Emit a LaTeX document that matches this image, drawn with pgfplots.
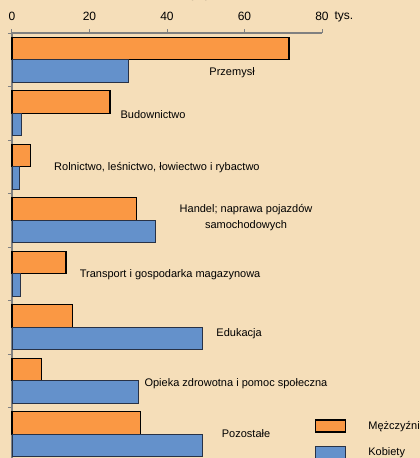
\documentclass[border=0pt]{standalone}
\usepackage{pgfplots}
\pgfplotsset{compat=1.18}
\usepackage{fontspec}
\setmainfont{Liberation Sans}
\definecolor{bg}{RGB}{245,222,185}
\definecolor{orangebar}{RGB}{250,152,68}
\definecolor{bluebar}{RGB}{100,145,203}
\definecolor{axgray}{RGB}{128,128,128}
\definecolor{blueedge}{RGB}{40,50,70}
\tikzset{lbl/.style={font=\fontsize{11}{16}\selectfont}}
\begin{document}
\begin{tikzpicture}[x=1pt,y=1pt]
\path[use as bounding box] (0,0) rectangle (420,458);
\clip (0,0) rectangle (420,458);
\fill[bg] (0,0) rectangle (420,458);
\node[font=\bfseries\fontsize{12}{14}\selectfont, anchor=base] at (195,457.5) {w 2010 r.};
\begin{axis}[
  at={(12pt,-3pt)}, anchor=south west,
  width=310pt, height=428pt, scale only axis,
  xmin=0, xmax=80, ymin=0, ymax=8,
  axis x line=top, axis y line=left,
  axis line style={axgray, line width=1.5pt, -},
  xtick={0,20,...,80}, ytick={0,1,...,8}, yticklabels={},
  tick align=outside, major tick length=4pt,
  tick style={axgray, line width=1pt},
  ticklabel style={font=\fontsize{12}{14}\selectfont},
  xticklabel style={yshift=5pt},
  /pgf/number format/assume math mode=true,
  clip=false,
  xbar, bar width=0.42, bar shift=0pt,
  legend style={at={(axis description cs:0.977,0.098)}, anchor=north west,
    draw=none, fill=none, inner sep=0pt, row sep=13pt, column sep=22pt,
    nodes={inner sep=0pt, anchor=west}, font=\fontsize{11}{13}\selectfont},
  legend cell align=left,
  legend image code/.code={\draw[#1] (0pt,-6pt) rectangle (30pt,6pt);},
]
\addplot[fill=orangebar, draw=black, line width=1.3pt] coordinates {
  (71.5,7.71) (25.3,6.71) (4.7,5.71) (32.2,4.71)
  (13.9,3.71) (15.7,2.71) (7.7,1.71) (33.1,0.71)};
\addplot[fill=bluebar, draw=blueedge, line width=0.7pt] coordinates {
  (30,7.29) (2.4,6.29) (1.9,5.29) (37,4.29)
  (2.2,3.29) (49,2.29) (32.7,1.29) (49,0.29)};
\legend{Mężczyźni, Kobiety}
\node[lbl] at (axis cs:56.8,7.252) {Przemysł};
\node[lbl] at (axis cs:36.4,6.467) {Budownictwo};
\node[lbl] at (axis cs:37.4,5.477) {Rolnictwo, leśnictwo, łowiectwo i rybactwo};
\node[lbl, align=center] at (axis cs:60.4,4.542) {Handel; naprawa pojazdów\\samochodowych};
\node[lbl] at (axis cs:40.8,3.477) {Transport i gospodarka magazynowa};
\node[lbl] at (axis cs:58.6,2.374) {Edukacja};
\node[lbl] at (axis cs:57.8,1.439) {Opieka zdrowotna i pomoc społeczna};
\node[lbl] at (axis cs:60.4,0.505) {Pozostałe};
\node[font=\fontsize{12}{14}\selectfont, anchor=base west] at (rel axis cs:1,1) [xshift=9pt, yshift=14pt] {tys.};
\end{axis}
\end{tikzpicture}
\end{document}
